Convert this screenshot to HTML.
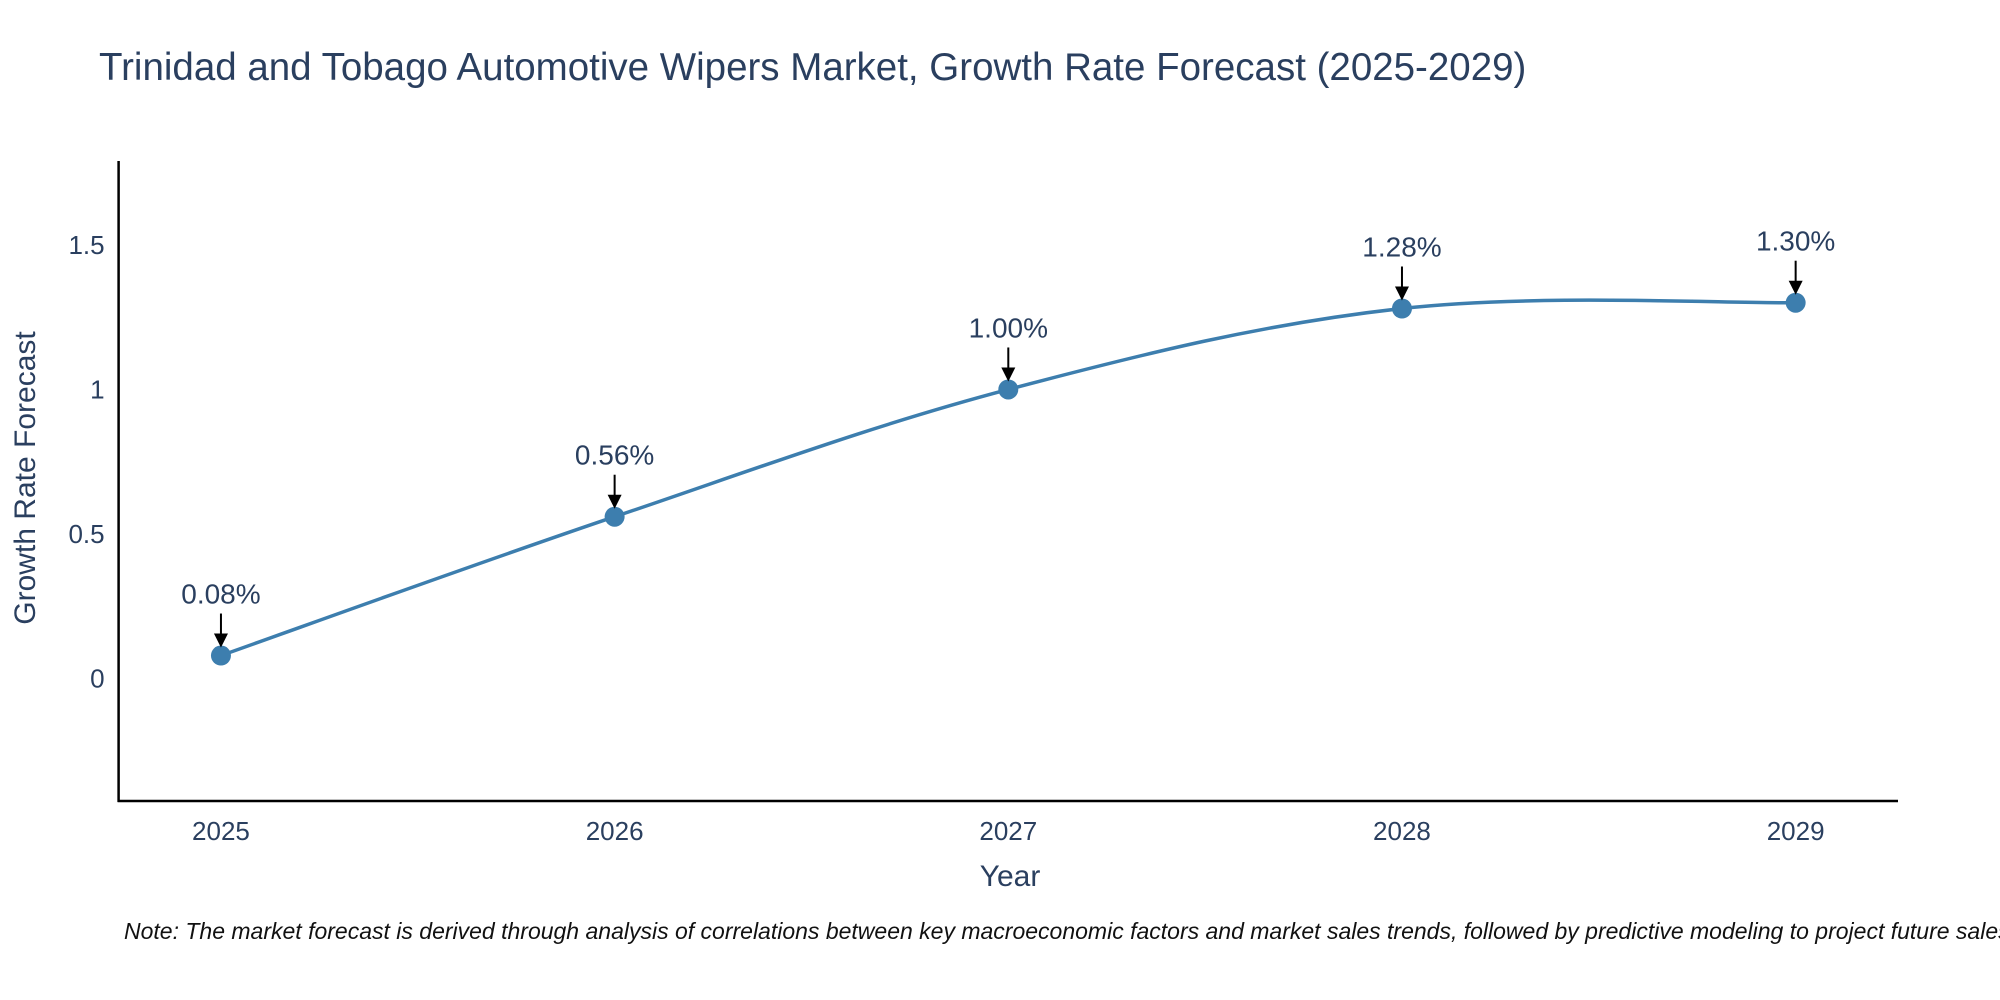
<!DOCTYPE html>
<html><head><meta charset="utf-8"><style>
html,body{margin:0;padding:0;background:#fff;}
svg{display:block;font-family:"Liberation Sans",sans-serif;}
</style></head><body>
<svg id="chart" width="2000" height="1000" viewBox="0 0 2000 1000">
<text x="99" y="80" font-size="38.5" fill="#2a3f5f">Trinidad and Tobago Automotive Wipers Market, Growth Rate Forecast (2025-2029)</text>
<g id="axes"></g>
<g id="plot"></g>
<text x="1010" y="886" font-size="30" fill="#2a3f5f" text-anchor="middle">Year</text>
<text transform="translate(35,478) rotate(-90)" font-size="30" fill="#2a3f5f" text-anchor="middle">Growth Rate Forecast</text>
<text x="124" y="939" font-size="23" font-style="italic" fill="#111">Note: The market forecast is derived through analysis of correlations between key macroeconomic factors and market sales trends, followed by predictive modeling to project future sales.</text>
</svg>
<script>
const years = [2025, 2026, 2027, 2028, 2029];
const growth = [0.08, 0.56, 1.00, 1.28, 1.30];
const labels = ["0.08%", "0.56%", "1.00%", "1.28%", "1.30%"];
const yTicks = [0, 0.5, 1, 1.5];
const yTickLabels = ["0", "0.5", "1", "1.5"];

const NS = "http://www.w3.org/2000/svg";
const L = 118.6, R = 1898, T = 161, B = 801;
const xMin = 2024.74, xMax = 2029.26, yMin = -0.423, yMax = 1.79;
const xs = v => L + (v - xMin) / (xMax - xMin) * (R - L);
const ys = v => B - (v - yMin) / (yMax - yMin) * (B - T);
function mk(tag, attrs, parent) { const e = document.createElementNS(NS, tag); for (const k in attrs) e.setAttribute(k, attrs[k]); parent.appendChild(e); return e; }
const axes = document.getElementById('axes'), plot = document.getElementById('plot');

let e = mk('line', {x1: L, y1: T, x2: L, y2: B + 1, stroke: '#000', 'stroke-width': 2.5}, axes);


e = mk('line', {x1: L - 1, y1: B, x2: R, y2: B, stroke: '#000', 'stroke-width': 2.5}, axes);



yTicks.forEach((t, i) => {
  const tx = mk('text', {x: L - 14, y: ys(t) + 9, 'font-size': 26, fill: '#2a3f5f', 'text-anchor': 'end'}, axes);
  tx.textContent = yTickLabels[i];
  
  
});
years.forEach(y => {
  const tx = mk('text', {x: xs(y), y: B + 39, 'font-size': 26, fill: '#2a3f5f', 'text-anchor': 'middle'}, axes);
  tx.textContent = String(y);
  
  
});

const pts = years.map((y, i) => [xs(y), ys(growth[i])]);
let d = 'M' + pts[0][0] + ',' + pts[0][1];
const s = 0.35;
for (let i = 0; i < pts.length - 1; i++) {
  const p0 = pts[Math.max(i - 1, 0)], p1 = pts[i], p2 = pts[i + 1], p3 = pts[Math.min(i + 2, pts.length - 1)];
  const c1 = [p1[0] + (p2[0] - p0[0]) * s / 2, p1[1] + (p2[1] - p0[1]) * s / 2];
  const c2 = [p2[0] - (p3[0] - p1[0]) * s / 2, p2[1] - (p3[1] - p1[1]) * s / 2];
  d += ` C${c1[0]},${c1[1]} ${c2[0]},${c2[1]} ${p2[0]},${p2[1]}`;
}
e = mk('path', {d: d, fill: 'none', stroke: '#3d7eae', 'stroke-width': 3.5}, plot);



pts.forEach((p, i) => {
  const c = mk('circle', {cx: p[0], cy: p[1], r: 10, fill: '#3d7eae'}, plot);
  
  
  const a = mk('line', {x1: p[0], y1: p[1] - 42, x2: p[0], y2: p[1] - 20, stroke: '#000', 'stroke-width': 2}, plot);
  
  
  const h = mk('polygon', {points: `${p[0]-7},${p[1]-22} ${p[0]+7},${p[1]-22} ${p[0]},${p[1]-8}`, fill: '#000'}, plot);
  
  
  const t = mk('text', {x: p[0], y: p[1] - 52, 'font-size': 28, fill: '#2a3f5f', 'text-anchor': 'middle'}, plot);
  t.textContent = labels[i];
  
  
});
</script>
</body></html>
